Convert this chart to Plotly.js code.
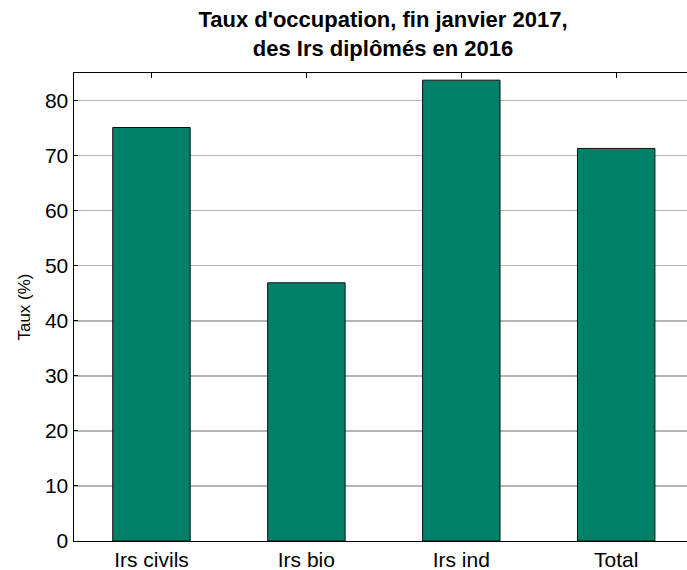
<!DOCTYPE html>
<html>
<head>
<meta charset="utf-8">
<script src="https://cdn.plot.ly/plotly-3.0.1.min.js"></script>
<style>html,body{margin:0;padding:0;background:#fff;}#chart{width:687px;height:570px;}</style>
</head>
<body>
<div id="chart"></div>
<script>
const categories = ["Irs civils", "Irs bio", "Irs ind", "Total"];
const tauxValues = [75.1, 46.9, 83.7, 71.3];
const yTicks = [0, 10, 20, 30, 40, 50, 60, 70, 80];

const positions = categories.map((c, i) => i + 1);

const trace = {
  type: 'bar',
  x: positions,
  y: tauxValues,
  width: 0.5,
  marker: {color: '#008066', line: {color: '#111111', width: 1}},
  hoverinfo: 'x+y',
  showlegend: false
};

const topTicks = {
  type: 'scatter', mode: 'markers', x: positions, y: positions.map(() => null),
  xaxis: 'x2', yaxis: 'y', showlegend: false, hoverinfo: 'skip'
};

const font = "Liberation Sans, Arial, sans-serif";
const layout = {
  width: 687, height: 570,
  margin: {l: 74, r: 0, t: 73, b: 29, pad: 0},
  paper_bgcolor: '#ffffff', plot_bgcolor: '#ffffff',
  title: {
    text: "Taux d'occupation, fin janvier 2017,<br>des Irs diplômés en 2016",
    font: {family: font, size: 22, color: '#000000', weight: 'bold'},
    x: 0.5575, xanchor: 'center', y: 0.952, yanchor: 'top'
  },
  xaxis: {
    range: [0.5, 4.457], tickvals: positions, ticktext: categories,
    ticks: '', showgrid: false, zeroline: false,
    showline: true, linecolor: '#000', linewidth: 1, mirror: true,
    tickfont: {family: font, size: 21, color: '#000'}, fixedrange: true
  },
  xaxis2: {
    overlaying: 'x', side: 'top', anchor: 'y', range: [0.5, 4.457],
    tickvals: positions, showticklabels: false, ticks: 'inside', ticklen: 5,
    tickcolor: '#000', showgrid: false, zeroline: false, showline: false, fixedrange: true
  },
  yaxis: {
    range: [0, 85], tickvals: yTicks, ticks: 'inside', ticklen: 4, tickcolor: '#000',
    showgrid: true, gridcolor: '#b4b4b4', gridwidth: 1.5,
    zeroline: false, showline: true, linecolor: '#000', linewidth: 1.5, mirror: false,
    tickfont: {family: font, size: 21, color: '#000'},
    title: {text: 'Taux (%)', font: {family: font, size: 17, color: '#000'}, standoff: 10},
    fixedrange: true
  },
  bargap: 0
};

Plotly.newPlot('chart', [trace, topTicks], layout, {displayModeBar: false, staticPlot: true});
</script>
</body>
</html>
